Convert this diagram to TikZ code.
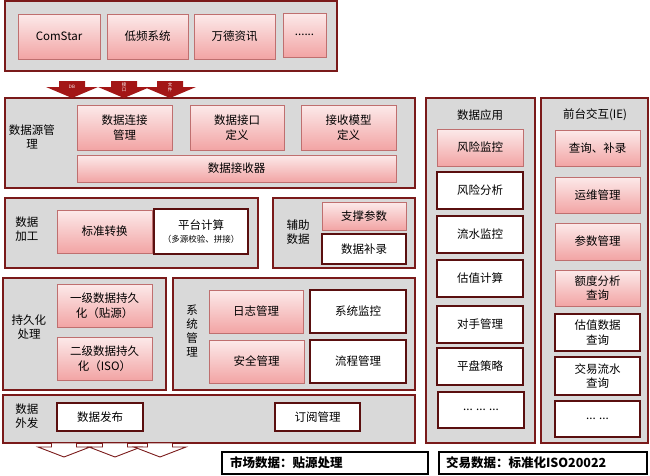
\documentclass[tikz,border=0pt]{standalone}
\usepackage{fontspec}
\setmainfont{Noto Sans CJK SC}
\usepackage{tikz}
\usetikzlibrary{calc,shadows}
\definecolor{frame}{HTML}{7A1A1A}
\definecolor{panelfill}{HTML}{D9D9D9}
\definecolor{pinktop}{HTML}{FCEAEA}
\definecolor{pinkbot}{HTML}{F2A4A4}
\definecolor{pinkline}{HTML}{BF6F6F}
\definecolor{boxline}{HTML}{5A0F0F}
\definecolor{arrowred}{HTML}{A31616}
\tikzset{
  panel/.style={draw=frame, fill=panelfill, line width=1.6pt, inner sep=0pt},
  pinkbox/.style={draw=pinkline, top color=pinktop, bottom color=pinkbot, line width=0.6pt,
    drop shadow={opacity=0.25, shadow xshift=1pt, shadow yshift=-1pt},
    align=center, inner sep=0pt, font=\fontsize{11.5}{14.5}\selectfont},
  whitebox/.style={draw=boxline, fill=white, line width=1.8pt,
    align=center, inner sep=0pt, font=\fontsize{11.5}{14.5}\selectfont},
  lab/.style={align=center, inner sep=0pt, font=\fontsize{11.5}{14.5}\selectfont},
  tag/.style={text=white, align=center, inner sep=0pt, font=\fontsize{4.5}{5}\selectfont},
  notebox/.style={draw=black, fill=white, line width=1.5pt, inner ysep=0pt, align=left,
    minimum height=22pt, font=\fontsize{12.5}{14}\selectfont\bfseries},
}

\begin{document}
\begin{tikzpicture}[x=1pt, y=-1pt]
\useasboundingbox (0,0) rectangle (650,475);

% source systems
\node[panel, minimum width=332, minimum height=70] (top) at (171,36) {};
\node[pinkbox, minimum width=82, minimum height=45] (comstar) at (59,36.5) {ComStar};
\node[pinkbox, minimum width=81, minimum height=45] (dipin) at (147.5,36.5) {低频系统};
\node[pinkbox, minimum width=81, minimum height=45] (wande) at (234.5,36.5) {万德资讯};
\node[pinkbox, minimum width=43, minimum height=44] (moretop) at (304.5,35) {......};

% left side panels
\node[panel, minimum width=410, minimum height=90] (src) at (210,143) {};
\node[panel, minimum width=253, minimum height=70] (proc) at (131.5,233) {};
\node[panel, minimum width=142, minimum height=70] (aux) at (344,233) {};
\node[panel, minimum width=163, minimum height=112] (persist) at (84.5,334) {};
\node[panel, minimum width=242, minimum height=112] (sys) at (294,334) {};
\node[panel, minimum width=412, minimum height=48] (pub) at (209,419) {};

% input arrows
\foreach \c/\t in {72/DB, 124/{接\\口}, 170/{文\\件}} {
  \fill[arrowred] (\c-13,81) -- (\c+13,81) -- (\c+13,87) -- (\c+26,87) -- (\c,98)
    -- (\c-26,87) -- (\c-13,87) -- cycle;
  \node[tag] at (\c,87) {\t};
}

% data source management
\node[lab] (srclab) at (32,137) {数据源管\\理};
\node[pinkbox, minimum width=95, minimum height=45] (conn) at (124.5,127.5) {数据连接\\管理};
\node[pinkbox, minimum width=94, minimum height=45] (iface) at (237,127.5) {数据接口\\定义};
\node[pinkbox, minimum width=95, minimum height=45] (model) at (348.5,127.5) {接收模型\\定义};
\node[pinkbox, minimum width=319, minimum height=27] (recv) at (236.5,168.5) {数据接收器};

% processing
\node[lab] (proclab) at (27,229) {数据\\加工};
\node[pinkbox, minimum width=95, minimum height=43] (std) at (104.5,231.5) {标准转换};
\node[whitebox, minimum width=94, minimum height=45] (calcbox) at (201,231.5)
  {平台计算\\[-2pt]{\fontsize{8.5}{10}\selectfont（多源校验、拼接）}};

% auxiliary data
\node[lab] (auxlab) at (298,232) {辅助\\数据};
\node[pinkbox, minimum width=84, minimum height=28] (param) at (364,216) {支撑参数};
\node[whitebox, minimum width=84, minimum height=30] (supp) at (364,249) {数据补录};

% persistence
\node[lab] (perlab) at (29,327) {持久化\\处理};
\node[pinkbox, minimum width=95, minimum height=43] (lvone) at (104.5,305.5) {一级数据持久\\化（贴源）};
\node[pinkbox, minimum width=95, minimum height=43] (lvtwo) at (104.5,358.5) {二级数据持久\\化（ISO）};

% system management
\node[lab, font=\fontsize{11.5}{14}\selectfont] (syslab) at (192,331) {系\\统\\管\\理};
\node[pinkbox, minimum width=94, minimum height=43] (log) at (256,311.5) {日志管理};
\node[whitebox, minimum width=96, minimum height=43] (mon) at (358,311.5) {系统监控};
\node[pinkbox, minimum width=95, minimum height=43] (sec) at (256.5,361.5) {安全管理};
\node[whitebox, minimum width=96, minimum height=43] (flow) at (358,361.5) {流程管理};

% publishing
\node[lab] (publab) at (27,416) {数据\\外发};
\node[whitebox, minimum width=86, minimum height=28] (release) at (100,417) {数据发布};
\node[whitebox, minimum width=85, minimum height=28] (subs) at (317.5,417) {订阅管理};

% output arrows
\foreach \c in {64,115,160} {
  \filldraw[fill=white, draw=frame, line width=0.9pt] (\c-12.5,443) -- (\c+12.5,443) -- (\c+12.5,447)
    -- (\c+26,447) -- (\c,457) -- (\c-26,447) -- (\c-12.5,447) -- cycle;
}

% data application
\node[panel, minimum width=109, minimum height=345] (app) at (480.5,270.5) {};
\node[lab] (applab) at (480,115) {数据应用};
\node[pinkbox, minimum width=86, minimum height=37] (risk) at (480,147.5) {风险监控};
\node[whitebox, minimum width=86, minimum height=37] (rana) at (480,190.5) {风险分析};
\node[whitebox, minimum width=86, minimum height=37] (flowmon) at (480,234.5) {流水监控};
\node[whitebox, minimum width=86, minimum height=37] (val) at (480,278.5) {估值计算};
\node[whitebox, minimum width=86, minimum height=37] (cpty) at (480,324.5) {对手管理};
\node[whitebox, minimum width=86, minimum height=37] (flat) at (480,366.5) {平盘策略};
\node[whitebox, minimum width=86, minimum height=36] (moreapp) at (481,410) {... ... ...};

% front-end interaction
\node[panel, minimum width=107, minimum height=345] (front) at (594.5,270.5) {};
\node[lab] (frontlab) at (595,115) {前台交互(IE)};
\node[pinkbox, minimum width=85, minimum height=36] (query) at (597.5,148) {查询、补录};
\node[pinkbox, minimum width=85, minimum height=36] (ops) at (597.5,195) {运维管理};
\node[pinkbox, minimum width=85, minimum height=37] (parm) at (597.5,241.5) {参数管理};
\node[pinkbox, minimum width=85, minimum height=36] (limit) at (597.5,288) {额度分析\\查询};
\node[whitebox, minimum width=85, minimum height=37] (valq) at (597.5,332.5) {估值数据\\查询};
\node[whitebox, minimum width=85, minimum height=38] (tradeq) at (597.5,376) {交易流水\\查询};
\node[whitebox, minimum width=85, minimum height=36] (morefront) at (597.5,419) {... ...};

% notes
\node[notebox, text width=190pt, inner xsep=8pt] (mkt) at (325,463) {市场数据：贴源处理};
\node[notebox, text width=194pt, inner xsep=7pt] (trade) at (543,463) {交易数据：标准化ISO20022};
\end{tikzpicture}
\end{document}
